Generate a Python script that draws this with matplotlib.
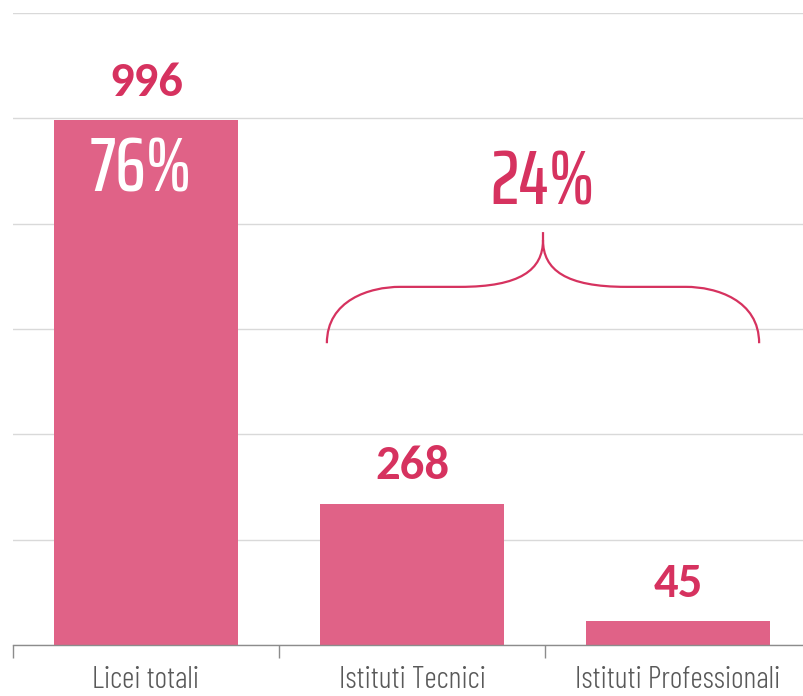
import matplotlib
matplotlib.use("Agg")
import matplotlib.pyplot as plt
from matplotlib.path import Path
from matplotlib.patches import PathPatch

categories = ["Licei totali", "Istituti Tecnici", "Istituti Professionali"]
values = [996, 268, 45]
share_licei = "76%"
share_others = "24%"

BAR = "#e06287"
PINK = "#d6325f"
GRID = "#d9d9d9"
AXIS = "#8c8c8c"
LABEL = "#595959"
PCT_FONT = "Saira ExtraCondensed"

fig = plt.figure(figsize=(8.04, 6.96), dpi=100)
ax = fig.add_axes([13 / 804, 51 / 696, 798 / 804, 632 / 696])

x = list(range(len(categories)))
ax.bar(x, values, width=0.69, color=BAR, zorder=2)

ax.set_xlim(-0.5, len(categories) - 0.5)
ax.set_ylim(0, 1200)
ax.set_yticks(range(0, 1201, 200))
ax.yaxis.grid(True, color=GRID, linewidth=1, zorder=0)
ax.tick_params(axis="y", length=0, labelleft=False)

ax.set_xticks(x)
ax.set_xticklabels(categories, family="Barlow Condensed", fontweight=300,
                   fontsize=22, color=LABEL)
ax.set_xticks([i - 0.5 for i in range(len(categories) + 1)], minor=True)
ax.tick_params(axis="x", which="major", length=0, pad=15)
ax.tick_params(axis="x", which="minor", length=9, color=AXIS, width=1)

for s in ["left", "right", "top"]:
    ax.spines[s].set_visible(False)
ax.spines["bottom"].set_color(AXIS)
ax.spines["bottom"].set_linewidth(1)

# value labels above bars
for xi, v in zip(x, values):
    ax.annotate(str(v), (xi, v), xytext=(0, 27), textcoords="offset points",
                ha="center", va="center", fontsize=35, fontweight="bold",
                family=["Carlito", "Lato", "DejaVu Sans"], color=PINK)

# share inside first bar
ax.text(-0.02, 900, share_licei, ha="center", va="center", fontsize=56,
        family=PCT_FONT, fontweight=500, color="white", zorder=3)

# brace over the two technical/professional bars
xl, xr, xc = 0.680, 2.305, 1.4925
yb, ym, yt = 573, 680, 784
verts = [
    (xl, yb), (xl, 655), (0.842, ym), (0.955, ym),
    (1.180, ym),
    (1.406, ym), (xc, 712), (xc, 769),
    (xc, yt),
    (xc, 769),
    (xc, 712), (2 * xc - 1.406, ym), (2 * xc - 1.180, ym),
    (2 * xc - 0.955, ym),
    (2 * xc - 0.842, ym), (xr, 655), (xr, yb),
]
codes = [Path.MOVETO, Path.CURVE4, Path.CURVE4, Path.CURVE4,
         Path.LINETO,
         Path.CURVE4, Path.CURVE4, Path.CURVE4,
         Path.LINETO,
         Path.MOVETO,
         Path.CURVE4, Path.CURVE4, Path.CURVE4,
         Path.LINETO,
         Path.CURVE4, Path.CURVE4, Path.CURVE4]
ax.add_patch(PathPatch(Path(verts, codes), fill=False, edgecolor=PINK,
                       linewidth=1.6, capstyle="butt", zorder=3))

ax.text(xc, 877, share_others, ha="center", va="center", fontsize=56,
        family=PCT_FONT, fontweight=500, color=PINK, zorder=3)

fig.savefig("out.png", dpi=100)
